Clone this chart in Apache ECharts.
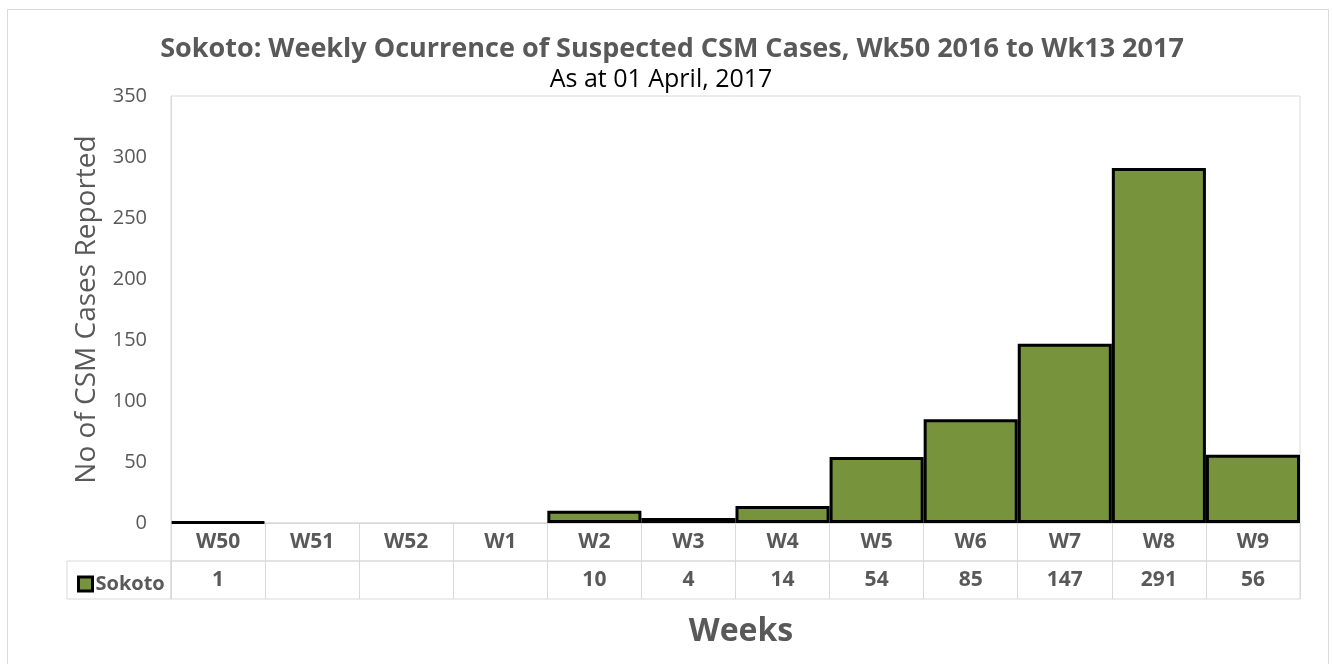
<!DOCTYPE html>
<html><head><meta charset="utf-8">
<script src="https://cdn.jsdelivr.net/npm/echarts@6/dist/echarts.min.js"></script>
<style>html,body{margin:0;padding:0;background:#fff}#c{width:1332px;height:664px}</style>
</head><body><div id="c"></div>
<script>
const weeks = ['W50','W51','W52','W1','W2','W3','W4','W5','W6','W7','W8','W9'];
const sokoto = [1, null, null, null, 10, 4, 14, 54, 85, 147, 291, 56];
const yTicks = {min: 0, max: 350, interval: 50};
const seriesName = 'Sokoto';
const titleText = 'Sokoto: Weekly Ocurrence of Suspected CSM Cases, Wk50 2016 to Wk13 2017';
const subText = 'As at 01 April, 2017';

const FONT = 'Open Sans';
const GRAY = '#595959';
const LINE = '#d9d9d9';
const L = 171, R = 32;

const chart = echarts.init(document.getElementById('c'), null, {renderer: 'canvas'});
const hiddenY = {type: 'value', show: false};
chart.setOption({
  animation: false,
  backgroundColor: '#fff',
  textStyle: {fontFamily: FONT},
  title: [
    {text: titleText, left: 667, top: 31, textAlign: 'center',
     textStyle: {fontFamily: FONT, fontWeight: 'bold', fontSize: 27, color: GRAY}},
    {text: subText, left: 656, top: 62, textAlign: 'center',
     textStyle: {fontFamily: FONT, fontWeight: 'normal', fontSize: 25, color: '#000'}},
    {text: 'Weeks', left: 736, top: 611, textAlign: 'center',
     textStyle: {fontFamily: FONT, fontWeight: 'bold', fontSize: 32, color: GRAY}}
  ],
  graphic: [{type: 'rect', shape: {x: 7.5, y: 9.5, width: 1321, height: 670},
    style: {fill: 'none', stroke: LINE, lineWidth: 1}, silent: true}],
  legend: {
    data: [seriesName], left: 72, top: 569, itemWidth: 14, itemHeight: 14, itemGap: 4,
    icon: 'rect',
    itemStyle: {borderColor: '#000', borderWidth: 3},
    textStyle: {fontFamily: FONT, fontWeight: 'bold', fontSize: 20, color: GRAY, padding: [0,0,0,-2]}
  },
  grid: [
    {left: L, right: R, top: 96, height: 427, show: true, borderColor: LINE, borderWidth: 1},
    {left: L, right: R, top: 523, height: 38, show: true, borderColor: LINE, borderWidth: 1},
    {left: L, right: R, top: 561, height: 38, show: true, borderColor: LINE, borderWidth: 1},
    {left: 67, width: 104, top: 561, height: 38, show: true, borderColor: LINE, borderWidth: 1}
  ],
  xAxis: [
    {gridIndex: 0, type: 'category', data: weeks, axisLine: {show: true, lineStyle: {color: LINE, width: 1}},
     axisTick: {show: false}, axisLabel: {show: false}, splitLine: {show: false}},
    {gridIndex: 1, type: 'category', data: weeks, position: 'top', axisLine: {show: false}, axisTick: {show: false},
     axisLabel: {inside: true, margin: 9, fontFamily: FONT, fontWeight: 'bold', fontSize: 21, color: GRAY},
     splitLine: {show: true, lineStyle: {color: LINE, width: 1}}},
    {gridIndex: 2, type: 'category', data: sokoto.map(v => v == null ? '' : String(v)), position: 'top',
     axisLine: {show: false}, axisTick: {show: false},
     axisLabel: {inside: true, margin: 9, fontFamily: FONT, fontWeight: 'bold', fontSize: 21, color: GRAY},
     splitLine: {show: true, lineStyle: {color: LINE, width: 1}}},
    {gridIndex: 3, type: 'category', data: [''], show: false}
  ],
  yAxis: [
    {gridIndex: 0, type: 'value', min: yTicks.min, max: yTicks.max, interval: yTicks.interval,
     axisLine: {show: true, lineStyle: {color: LINE}}, axisTick: {show: false}, splitLine: {show: false},
     axisLabel: {margin: 24, fontFamily: FONT, fontSize: 20, color: GRAY},
     name: 'No of CSM Cases Reported', nameLocation: 'middle', nameGap: 70,
     nameTextStyle: {fontFamily: FONT, fontSize: 28, color: GRAY}},
    Object.assign({gridIndex: 1}, hiddenY),
    Object.assign({gridIndex: 2}, hiddenY),
    Object.assign({gridIndex: 3}, hiddenY)
  ],
  series: [{
    name: seriesName, type: 'bar', xAxisIndex: 0, yAxisIndex: 0, data: sokoto,
    barWidth: '100%', barCategoryGap: 0,
    itemStyle: {color: '#77933C', borderColor: '#000', borderWidth: 3}
  }]
});
</script></body></html>
